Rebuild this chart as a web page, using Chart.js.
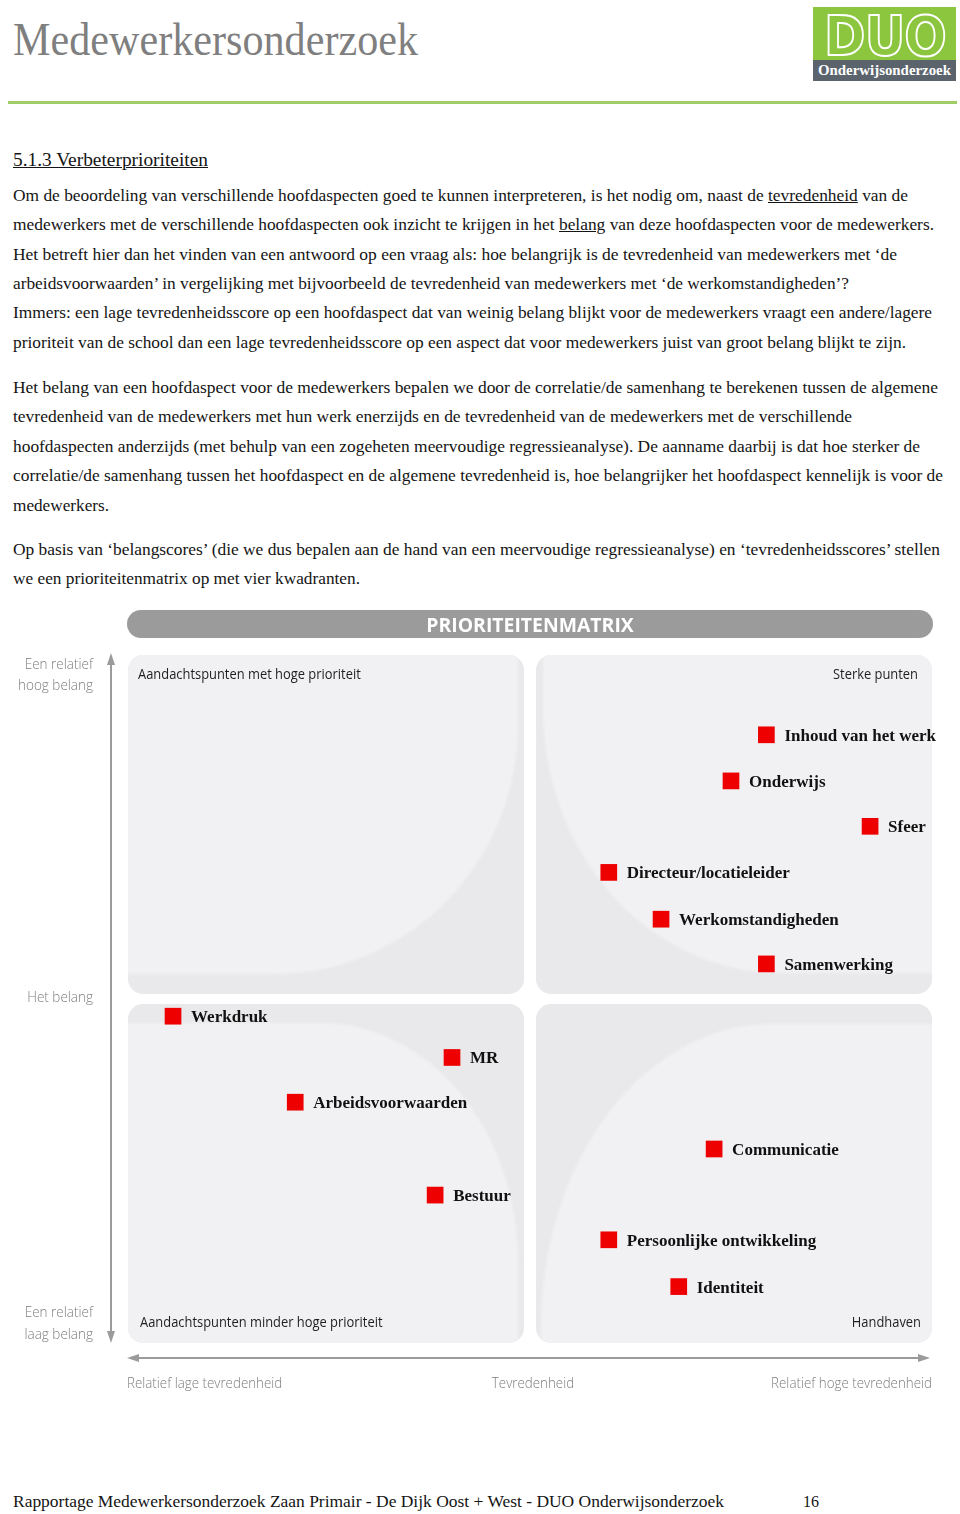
<!DOCTYPE html>
<html lang="nl">
<head>
<meta charset="utf-8">
<title>Medewerkersonderzoek - Prioriteitenmatrix</title>
<script src="https://cdn.jsdelivr.net/npm/chart.js@4.4.1/dist/chart.umd.min.js"></script>
<style>
  html, body { margin: 0; padding: 0; background: #fff; }
  body { position: relative; width: 960px; height: 1514px; overflow: hidden; }
  .ln {
    position: absolute; left: 13px; white-space: nowrap;
    font-family: 'Liberation Serif', 'Times New Roman', serif;
    font-size: 17px; line-height: 17px; color: #141414;
    transform-origin: 0 0;
  }
  #kop { font-size: 46px; line-height: 46px; color: #7f7f7f; top: 16.5px; }
  #sectie { font-size: 18px; line-height: 18px; top: 151px; text-decoration: underline; text-decoration-thickness: 1px; }
  .voet { font-size: 16px; line-height: 16px; top: 1494px; }
  #lijn { position: absolute; left: 8px; top: 101px; width: 949px; height: 3px; background: #a0cd66; }
  #logo { position: absolute; left: 813px; top: 7px; width: 143px; }
  #logo .duo { height: 53px; background: #8cc63e; position: relative; overflow: hidden; }
  #logo .duo span {
    position: absolute; left: 11px; top: 1px; white-space: nowrap;
    font-family: 'DejaVu Sans', sans-serif; font-weight: bold; font-size: 56px; line-height: 56px;
    color: #8cc63e; -webkit-text-stroke: 2px #fff; letter-spacing: -1px;
    transform-origin: 0 0;
  }
  #logo .ow { height: 21px; background: #5b646d; position: relative; }
  #logo .ow span {
    position: absolute; left: 5px; top: 3px; white-space: nowrap;
    font-family: 'Liberation Serif', serif; font-weight: bold; font-size: 15px; line-height: 15px;
    color: #fff; transform-origin: 0 0;
  }
  #matrix { position: absolute; left: 0; top: 600px; }
</style>
</head>
<body>

<div id="kop" class="ln" data-w="405">Medewerkersonderzoek</div>
<div id="logo">
  <div class="duo"><span data-w="122">DUO</span></div>
  <div class="ow"><span data-w="133">Onderwijsonderzoek</span></div>
</div>
<div id="lijn"></div>

<div id="sectie" class="ln" data-w="195">5.1.3 Verbeterprioriteiten</div>

<div class="ln" style="top:186.75px" data-w="895">Om de beoordeling van verschillende hoofdaspecten goed te kunnen interpreteren, is het nodig om, naast de <u>tevredenheid</u> van de</div>
<div class="ln" style="top:216.25px" data-w="921">medewerkers met de verschillende hoofdaspecten ook inzicht te krijgen in het <u>belang</u> van deze hoofdaspecten voor de medewerkers.</div>
<div class="ln" style="top:245.75px" data-w="884">Het betreft hier dan het vinden van een antwoord op een vraag als: hoe belangrijk is de tevredenheid van medewerkers met ‘de</div>
<div class="ln" style="top:274.75px" data-w="836">arbeidsvoorwaarden’ in vergelijking met bijvoorbeeld de tevredenheid van medewerkers met ‘de werkomstandigheden’?</div>
<div class="ln" style="top:304.25px" data-w="919">Immers: een lage tevredenheidsscore op een hoofdaspect dat van weinig belang blijkt voor de medewerkers vraagt een andere/lagere</div>
<div class="ln" style="top:333.75px" data-w="893">prioriteit van de school dan een lage tevredenheidsscore op een aspect dat voor medewerkers juist van groot belang blijkt te zijn.</div>

<div class="ln" style="top:378.75px" data-w="925">Het belang van een hoofdaspect voor de medewerkers bepalen we door de correlatie/de samenhang te berekenen tussen de algemene</div>
<div class="ln" style="top:407.75px" data-w="839">tevredenheid van de medewerkers met hun werk enerzijds en de tevredenheid van de medewerkers met de verschillende</div>
<div class="ln" style="top:437.75px" data-w="907">hoofdaspecten anderzijds (met behulp van een zogeheten meervoudige regressieanalyse). De aanname daarbij is dat hoe sterker de</div>
<div class="ln" style="top:466.75px" data-w="930">correlatie/de samenhang tussen het hoofdaspect en de algemene tevredenheid is, hoe belangrijker het hoofdaspect kennelijk is voor de</div>
<div class="ln" style="top:496.75px" data-w="96">medewerkers.</div>

<div class="ln" style="top:540.75px" data-w="927">Op basis van ‘belangscores’ (die we dus bepalen aan de hand van een meervoudige regressieanalyse) en ‘tevredenheidsscores’ stellen</div>
<div class="ln" style="top:569.75px" data-w="347">we een prioriteitenmatrix op met vier kwadranten.</div>

<canvas id="matrix" width="960" height="810"></canvas>

<div class="ln voet" data-w="711">Rapportage Medewerkersonderzoek Zaan Primair - De Dijk Oost + West - DUO Onderwijsonderzoek</div>
<div class="ln voet" style="left:803px">16</div>

<script>
const aspecten = [
    'Inhoud van het werk', 'Onderwijs', 'Sfeer', 'Directeur/locatieleider',
    'Werkomstandigheden', 'Samenwerking', 'Werkdruk', 'MR', 'Arbeidsvoorwaarden',
    'Bestuur', 'Communicatie', 'Persoonlijke ontwikkeling', 'Identiteit'
];
const tevredenheid = [79.4, 75.0, 92.3, 59.8, 66.3, 79.4, 5.6, 40.3, 20.8, 38.2, 72.9, 59.8, 68.5];
const belang = [88.4, 81.7, 75.1, 68.4, 61.6, 55.1, 47.5, 41.5, 35.0, 21.5, 28.2, 15.0, 8.2];

const titel = 'PRIORITEITENMATRIX';
const kwadranten = [
    'Aandachtspunten met hoge prioriteit', 'Sterke punten',
    'Aandachtspunten minder hoge prioriteit', 'Handhaven'
];
const belangLabels = [['Een relatief', 'hoog belang'], ['Het belang'], ['Een relatief', 'laag belang']];
const tevredenheidLabels = ['Relatief lage tevredenheid', 'Tevredenheid', 'Relatief hoge tevredenheid'];

// fit the scanned-looking serif lines to their widths
document.querySelectorAll('[data-w]').forEach(el => {
    const w = el.getBoundingClientRect().width;
    if (w > 0) el.style.transform = `scaleX(${(+el.dataset.w / w).toFixed(4)})`;
});

const SANS = "'Open Sans', 'Noto Sans', sans-serif";

function narrowText(ctx, text, x, y, align, sx) {
    const w = ctx.measureText(text).width * sx;
    let left = x;
    if (align === 'right') left = x - w;
    else if (align === 'center') left = x - w / 2;
    ctx.save();
    ctx.translate(left, y);
    ctx.scale(sx, 1);
    ctx.textAlign = 'left';
    ctx.fillText(text, 0, 0);
    ctx.restore();
}

function arrowHead(ctx, x, y, dx, dy) {
    const len = 12, half = 4;
    ctx.beginPath();
    ctx.moveTo(x, y);
    ctx.lineTo(x - dx * len - dy * half, y - dy * len + dx * half);
    ctx.lineTo(x - dx * len + dy * half, y - dy * len - dx * half);
    ctx.closePath();
    ctx.fill();
}

function lightShape(ctx, L, T, R, B, corner, rx, ry) {
    ctx.beginPath();
    if (corner === 'br') {
        ctx.moveTo(L, T); ctx.lineTo(R, T); ctx.lineTo(R, B - ry);
        ctx.ellipse(R - rx, B - ry, rx, ry, 0, 0, Math.PI / 2);
        ctx.lineTo(L, B);
    } else if (corner === 'bl') {
        ctx.moveTo(L, T); ctx.lineTo(R, T); ctx.lineTo(R, B); ctx.lineTo(L + rx, B);
        ctx.ellipse(L + rx, B - ry, rx, ry, 0, Math.PI / 2, Math.PI);
    } else if (corner === 'tr') {
        ctx.moveTo(L, T); ctx.lineTo(R - rx, T);
        ctx.ellipse(R - rx, T + ry, rx, ry, 0, -Math.PI / 2, 0);
        ctx.lineTo(R, B); ctx.lineTo(L, B);
    } else {
        ctx.moveTo(L, T + ry);
        ctx.ellipse(L + rx, T + ry, rx, ry, 0, Math.PI, Math.PI * 1.5);
        ctx.lineTo(R, T); ctx.lineTo(R, B); ctx.lineTo(L, B);
    }
    ctx.closePath();
}

function panel(ctx, box, light) {
    ctx.save();
    ctx.beginPath();
    ctx.roundRect(box.L, box.T, box.R - box.L, box.B - box.T, 15);
    ctx.fillStyle = '#e9e9eb';
    ctx.fill();
    ctx.clip();
    lightShape(ctx, light.L, light.T, light.R, light.B, light.corner, light.rx, light.ry);
    ctx.filter = 'blur(1.5px)';
    ctx.fillStyle = '#f1f1f3';
    ctx.fill();
    ctx.restore();
}

const matrixPlugin = {
    id: 'matrix',
    beforeDatasetsDraw(chart) {
        const { ctx, chartArea: a, scales: { x, y } } = chart;
        const mx = x.getPixelForValue(50);
        const my = y.getPixelForValue(50);

        // title bar
        ctx.save();
        ctx.beginPath();
        ctx.roundRect(a.left - 1, a.top - 45, a.right - a.left + 2, 28, 14);
        ctx.fillStyle = '#9b9b9b';
        ctx.fill();
        ctx.fillStyle = '#fff';
        ctx.font = 'bold 20px ' + SANS;
        narrowText(ctx, titel, (a.left + a.right) / 2, a.top - 23, 'center', 0.97);
        ctx.restore();

        // quadrants
        const tl = { L: a.left, T: a.top, R: mx - 6, B: my - 5 };
        const tr = { L: mx + 6, T: a.top, R: a.right, B: my - 5 };
        const bl = { L: a.left, T: my + 5, R: mx - 6, B: a.bottom };
        const br = { L: mx + 6, T: my + 5, R: a.right, B: a.bottom };
        panel(ctx, tl, { L: tl.L - 5, T: tl.T - 5, R: tl.R - 6, B: tl.B - 20, corner: 'br', rx: 243, ry: 250 });
        panel(ctx, tr, { L: tr.L + 7, T: tr.T - 5, R: tr.R + 5, B: tr.B - 21, corner: 'bl', rx: 237, ry: 265 });
        panel(ctx, bl, { L: bl.L - 5, T: bl.T + 19, R: bl.R - 6, B: bl.B + 5, corner: 'tr', rx: 198, ry: 239 });
        panel(ctx, br, { L: br.L + 5, T: br.T + 20, R: br.R + 5, B: br.B + 5, corner: 'tl', rx: 230, ry: 304 });

        ctx.save();
        ctx.font = '15px ' + SANS;
        ctx.fillStyle = '#1e1e1e';
        ctx.textBaseline = 'middle';
        narrowText(ctx, kwadranten[0], tl.L + 10, tl.T + 20, 'left', 0.86);
        narrowText(ctx, kwadranten[1], tr.R - 14, tr.T + 20, 'right', 0.86);
        narrowText(ctx, kwadranten[2], bl.L + 12, bl.B - 20, 'left', 0.86);
        narrowText(ctx, kwadranten[3], br.R - 11, br.B - 20, 'right', 0.86);
        ctx.restore();

        // axes arrows
        ctx.save();
        ctx.strokeStyle = '#9b9b9b';
        ctx.fillStyle = '#9b9b9b';
        ctx.lineWidth = 2;
        const ax = a.left - 17;
        ctx.beginPath();
        ctx.moveTo(ax, a.top + 6);
        ctx.lineTo(ax, a.bottom - 6);
        ctx.stroke();
        arrowHead(ctx, ax, a.top - 2, 0, -1);
        arrowHead(ctx, ax, a.bottom, 0, 1);
        const ay = a.bottom + 15;
        ctx.beginPath();
        ctx.moveTo(a.left + 6, ay);
        ctx.lineTo(a.right - 8, ay);
        ctx.stroke();
        arrowHead(ctx, a.left - 1, ay, -1, 0);
        arrowHead(ctx, a.right - 2, ay, 1, 0);

        // axis texts
        ctx.font = '300 15px ' + SANS;
        ctx.fillStyle = '#7d7d7d';
        ctx.textBaseline = 'middle';
        const lx = a.left - 35;
        narrowText(ctx, belangLabels[0][0], lx, a.top + 10, 'right', 0.9);
        narrowText(ctx, belangLabels[0][1], lx, a.top + 31, 'right', 0.9);
        narrowText(ctx, belangLabels[1][0], lx, my - 1, 'right', 0.9);
        narrowText(ctx, belangLabels[2][0], lx, a.bottom - 30, 'right', 0.9);
        narrowText(ctx, belangLabels[2][1], lx, a.bottom - 8, 'right', 0.9);
        const by = a.bottom + 41;
        narrowText(ctx, tevredenheidLabels[0], a.left - 1, by, 'left', 0.89);
        narrowText(ctx, tevredenheidLabels[1], mx + 3, by, 'center', 0.89);
        narrowText(ctx, tevredenheidLabels[2], a.right, by, 'right', 0.89);
        ctx.restore();
    }
};

const labelPlugin = {
    id: 'aspectLabels',
    afterDatasetsDraw(chart) {
        const ctx = chart.ctx;
        const meta = chart.getDatasetMeta(0);
        ctx.save();
        ctx.font = "bold 17px 'Liberation Serif', 'Times New Roman', serif";
        ctx.fillStyle = '#111';
        ctx.textBaseline = 'alphabetic';
        ctx.textAlign = 'left';
        meta.data.forEach((pt, i) => ctx.fillText(aspecten[i], pt.x + 18, pt.y + 6));
        ctx.restore();
    }
};

new Chart(document.getElementById('matrix'), {
    type: 'scatter',
    data: {
        datasets: [{
            label: 'Hoofdaspecten',
            data: aspecten.map((_, i) => ({ x: tevredenheid[i], y: belang[i] })),
            pointStyle: 'rect',
            pointRadius: 11.8,
            pointHoverRadius: 11.8,
            backgroundColor: '#ee0000',
            borderWidth: 0,
            clip: false
        }]
    },
    options: {
        responsive: false,
        animation: false,
        events: [],
        devicePixelRatio: 1,
        layout: { autoPadding: false, padding: { left: 128, right: 28, top: 55, bottom: 67 } },
        scales: {
            x: { type: 'linear', min: 0, max: 100, display: false },
            y: { type: 'linear', min: 0, max: 100, display: false }
        },
        plugins: { legend: { display: false }, tooltip: { enabled: false } }
    },
    plugins: [matrixPlugin, labelPlugin]
});
</script>
</body>
</html>
